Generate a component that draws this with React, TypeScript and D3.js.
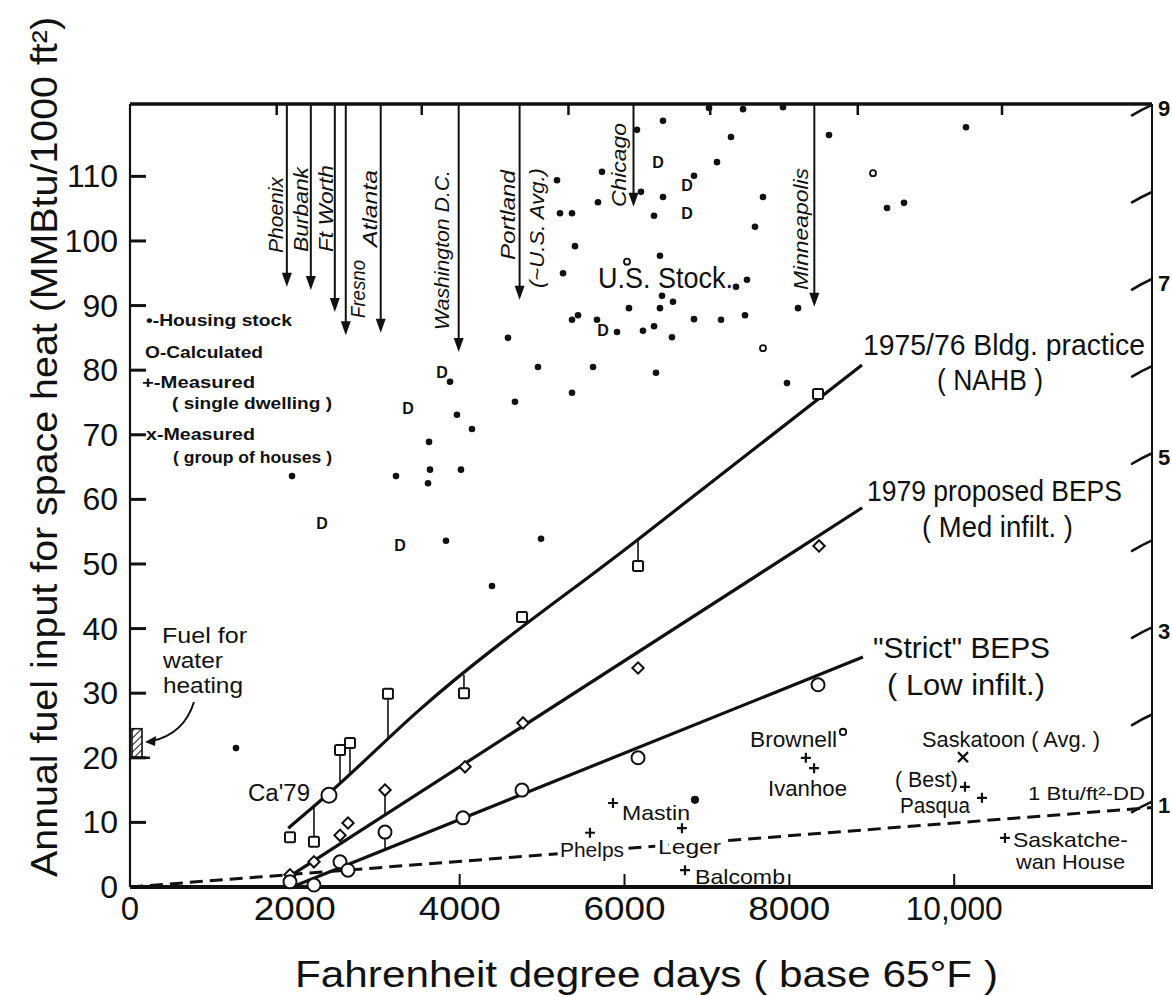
import React from 'react';
import * as d3 from 'd3';

const W = 1172;
const H = 996;
const PLOT = { left: 130, right: 1152, top: 104, bottom: 887 };
const FONT = "'Liberation Sans', Arial, sans-serif";

// axes
const xTickValues = [0, 2000, 4000, 6000, 8000, 10000];
const xTickLabels = ['0', '2000', '4000', '6000', '8000', '10,000'];
const topTickValues = [1780, 3540, 5320, 7040, 8830, 10580];
const yTickValues = [0, 10, 20, 30, 40, 50, 60, 70, 80, 90, 100, 110];
const rightTickValues = [1, 2, 3, 4, 5, 6, 7, 8, 9];
const rightTickLabels = [1, 3, 5, 7, 9];

// housing stock (filled dots)
const stockDD = [5181, 5727, 5217, 5363, 5678, 5399, 5254, 5363, 5436, 5666, 5909, 4586, 4950, 5618, 5363, 3883,
  6467, 6151, 7292, 8481, 7122, 6843, 6200, 6467, 7680, 6358, 7583, 6430, 7486, 7353, 6455, 6588, 6054, 6430, 8105,
  6224, 6358, 6576, 6843, 7171, 7462, 6382, 7971, 7025, 7438, 7923, 10143, 9185, 9391,
  4671, 3967, 4149, 3628, 3227, 3640, 3616, 4016, 3834, 4987, 1966, 4392, 1286];
const stockFuel = [109.4, 110.7, 104.3, 104.3, 106.0, 99.2, 95.0, 87.8, 88.5, 87.8, 85.9, 85.0, 80.5, 80.5, 76.5, 78.2,
  118.6, 117.2, 116.1, 116.4, 112.2, 110.1, 107.6, 106.8, 106.8, 103.9, 102.2, 97.7, 94.0, 92.9, 91.5, 90.6, 89.6, 89.6, 89.6,
  86.1, 86.8, 85.1, 87.9, 87.8, 88.5, 79.6, 78.0, 120.6, 120.4, 120.7, 117.6, 105.1, 105.9,
  75.1, 73.1, 70.9, 68.9, 63.6, 64.6, 62.5, 64.6, 53.6, 53.9, 63.6, 46.6, 21.5];
// "D" marks in the stock cloud
const dMarkDD = [5739, 3785, 6406, 6758, 6758, 3373, 2330, 3276];
const dMarkFuel = [86.2, 79.7, 112.2, 108.7, 104.3, 74.1, 56.3, 52.9];
// small open circles in the stock cloud
const ringDD = [6030, 7680, 9015];
const ringFuel = [96.8, 83.4, 110.5];

// cities (arrows from the top)
const cityNames = ['Phoenix', 'Burbank', 'Ft Worth', 'Fresno', 'Atlanta', 'Washington D.C.', 'Portland', 'Chicago', 'Minneapolis'];
const cityDD = [1903, 2194, 2485, 2618, 3042, 3988, 4727, 6109, 8303];
const cityArrowTo = [92.9, 92.4, 89.0, 85.4, 85.8, 82.8, 90.9, 105.3, 89.8];

// calculated points (city order)
const nahbDD = [1941, 2232, 2548, 2669, 3130, 4052, 4756, 6164, 8348];
const nahbFuel = [7.7, 7.0, 21.2, 22.3, 29.9, 30.0, 41.8, 49.7, 76.3];
const nahbStem = [false, true, true, true, true, true, false, true, false];
const bepsDD = [1941, 2232, 2548, 2645, 3094, 4065, 4768, 6164, 8360];
const bepsFuel = [1.9, 3.9, 8.0, 9.9, 15.0, 18.6, 25.4, 33.9, 52.8];
const bepsStem = [false, false, false, false, true, false, false, false, false];
const strictDD = [1941, 2232, 2548, 2645, 3094, 4040, 4756, 6164, 8348];
const strictFuel = [0.8, 0.3, 3.9, 2.6, 8.5, 10.7, 15.0, 20.0, 31.3];
const strictStem = [false, false, false, false, true, false, false, false, false];
const ca79 = [2414, 14.2];

// fitted lines
const nahbLine = [[1920, 9.1], [2414, 14.5], [3519, 27.5], [6164, 53.8], [8881, 80.8]];
const bepsLine = [[1917, 1.5], [8884, 58.7]];
const strictLine = [[1966, 0], [8893, 35.6]];
const oneBtuLine = [[0, 0], [12400, 12.3]];

// measured
const singleNames = ['Brownell', 'Ivanhoe', 'Mastin', 'Phelps', 'Leger', 'Balcomb', 'Saskatchewan House', 'Best', 'Pasqua'];
const singleDD = [8200, 8300, 5860, 5581, 6697, 6734, 10616, 10131, 10337];
const singleFuel = [20.0, 18.4, 13.0, 8.4, 9.1, 2.6, 7.6, 15.5, 13.8];
const groupDD = [10107];
const groupFuel = [20.1];
const noteDD = [8651, 6855];
const noteFuel = [24.0, 13.5];
const waterHeat = [20, 24.5];

const x = d3.scaleLinear().domain([0, 12400]).range([PLOT.left, PLOT.right]);
const y = d3.scaleLinear().domain([0, 121.2]).range([PLOT.bottom, PLOT.top]);
const yR = d3.scaleLinear().domain([0.06, 9.05]).range([PLOT.bottom, PLOT.top]);

const pathOf = d3.line<number[]>().x(d => x(d[0])).y(d => y(d[1]));
const smoothOf = d3.line<number[]>().x(d => x(d[0])).y(d => y(d[1])).curve(d3.curveMonotoneX);
const fnOf = (pts: number[][]) => d3.scaleLinear().domain(pts.map(p => p[0])).range(pts.map(p => p[1]));

// label layout for cities: baseline offset from arrow, top of text, text length
const cityLayout = [
  [-4, 177, 76], [-3, 167, 85], [-2, 165, 87], [19, 260, 58], [-4, 170, 77],
  [-10, 170, 160], [-5, 170, 90], [-7, 123, 84], [-6, 168, 122],
];

const legendItems = [
  { t: '•-Housing stock', x: 146, y: 326, len: 146 },
  { t: 'O-Calculated', x: 145, y: 358, len: 118 },
  { t: '+-Measured', x: 142, y: 388, len: 113 },
  { t: '( single dwelling )', x: 172, y: 409, len: 160 },
  { t: 'x-Measured', x: 146, y: 440, len: 109 },
  { t: '( group of houses )', x: 173, y: 463, len: 159 },
];

const notes = [
  { t: '1975/76 Bldg. practice', x: 863, y: 355, s: 29, len: 282 },
  { t: '( NAHB )', x: 937, y: 390, s: 29, len: 106 },
  { t: '1979 proposed BEPS', x: 867, y: 501, s: 29, len: 255 },
  { t: '( Med infilt. )', x: 922, y: 537, s: 29, len: 151 },
  { t: '"Strict" BEPS', x: 873, y: 658, s: 29, len: 177 },
  { t: '( Low infilt.)', x: 887, y: 695, s: 29, len: 158 },
  { t: 'U.S. Stock.', x: 598, y: 288, s: 29, len: 135 },
  { t: 'Brownell', x: 750, y: 747, s: 22, len: 87 },
  { t: 'Ivanhoe', x: 768, y: 796, s: 22, len: 79 },
  { t: 'Saskatoon ( Avg. )', x: 922, y: 747, s: 22, len: 178 },
  { t: '( Best)', x: 895, y: 787, s: 22, len: 63 },
  { t: 'Pasqua', x: 900, y: 813, s: 22, len: 70 },
  { t: '1 Btu/ft²-DD', x: 1028, y: 800, s: 19, len: 117 },
  { t: 'Mastin', x: 622, y: 820, s: 21, len: 68 },
  { t: 'Phelps', x: 560, y: 857, s: 21, len: 64, halo: true },
  { t: 'Leger', x: 658, y: 854, s: 21, len: 63, halo: true },
  { t: 'Balcomb', x: 695, y: 884, s: 21, len: 90 },
  { t: 'Saskatche-', x: 1013, y: 847, s: 21, len: 115 },
  { t: 'wan House', x: 1016, y: 869, s: 21, len: 109 },
  { t: "Ca'79", x: 248, y: 801, s: 23, len: 62 },
  { t: 'Fuel for', x: 162, y: 643, s: 22, len: 85 },
  { t: 'water', x: 163, y: 668, s: 22, len: 60 },
  { t: 'heating', x: 163, y: 693, s: 22, len: 80 },
];

const ink = '#111';

function Txt(p: any) {
  const { x: tx, y: ty, t, s, len, anchor = 'start', weight = 'normal', italic = false, rot = 0, halo = false } = p;
  return (
    <text
      transform={`translate(${tx},${ty})${rot ? ` rotate(${rot})` : ''}`}
      fontFamily={FONT}
      fontSize={s}
      fontWeight={weight}
      fontStyle={italic ? 'italic' : 'normal'}
      textAnchor={anchor}
      textLength={len}
      lengthAdjust={len ? 'spacingAndGlyphs' : undefined}
      fill={ink}
      stroke={halo ? '#fff' : 'none'}
      strokeWidth={halo ? 8 : 0}
      paintOrder="stroke"
    >
      {t}
    </text>
  );
}

function Stems({ dd, fuel, stem, line, r }: any) {
  const f = fnOf(line);
  return (
    <g stroke={ink} strokeWidth={1.6}>
      {dd.map((d: number, i: number) => {
        if (!stem[i]) return null;
        const px = x(d);
        const py = y(fuel[i]);
        const ly = y(f(d));
        const sy = ly > py ? py + r : py - r;
        return <line key={i} x1={px} x2={px} y1={sy} y2={ly} />;
      })}
    </g>
  );
}

export default function App() {
  const xR = PLOT.right;
  return (
    <svg width={W} height={H} viewBox={`0 0 ${W} ${H}`} style={{ position: 'absolute', left: 0, top: 0, background: '#fff' }}>
      <defs>
        <pattern id="hatch" width="5" height="5" patternUnits="userSpaceOnUse" patternTransform="rotate(45)">
          <line x1="0" y1="0" x2="0" y2="5" stroke={ink} strokeWidth="2" />
        </pattern>
      </defs>
      <rect width={W} height={H} fill="#fff" />

      {/* frame */}
      <line x1={PLOT.left} x2={PLOT.right} y1={PLOT.top} y2={PLOT.top} stroke={ink} strokeWidth={3.5} />
      <line x1={PLOT.left} x2={PLOT.right + 1} y1={PLOT.bottom} y2={PLOT.bottom} stroke={ink} strokeWidth={4} />
      <line x1={PLOT.left} x2={PLOT.left} y1={PLOT.top} y2={PLOT.bottom} stroke={ink} strokeWidth={2.2} />
      <line x1={xR} x2={xR} y1={PLOT.top} y2={PLOT.bottom} stroke={ink} strokeWidth={2} />

      {/* left ticks + labels */}
      {yTickValues.map(v => (
        <g key={v}>
          <line x1={PLOT.left} x2={PLOT.left + 16} y1={y(v)} y2={y(v)} stroke={ink} strokeWidth={3} />
          <Txt x={118} y={y(v) + 11} t={String(v)} s={32} anchor="end" />
        </g>
      ))}

      {/* bottom ticks + labels */}
      {xTickValues.map((v, i) => (
        <g key={v}>
          {v > 0 && <line x1={x(v)} x2={x(v)} y1={PLOT.bottom} y2={PLOT.bottom - 13} stroke={ink} strokeWidth={2} />}
          <Txt x={x(v)} y={920} t={xTickLabels[i]} s={33} anchor="middle"
            len={xTickLabels[i] === '10,000' ? 97 : xTickLabels[i].length === 1 ? undefined : 82} />
        </g>
      ))}

      {/* top ticks */}
      {topTickValues.map(v => (
        <line key={v} x1={x(v)} x2={x(v)} y1={PLOT.top} y2={PLOT.top + 11} stroke={ink} strokeWidth={2.5} />
      ))}

      {/* right slanted ticks */}
      {rightTickValues.map(k => {
        const py = yR(k);
        return (
          <path key={k} d={`M${xR - 20},${py + 7} Q${xR - 10},${py + 1} ${xR - 1},${py - 3}`}
            fill="none" stroke={ink} strokeWidth={2.6} strokeLinecap="round" />
        );
      })}
      {rightTickLabels.map(k => (
        <Txt key={k} x={xR + 6} y={yR(k) + 8} t={String(k)} s={22} weight="bold" />
      ))}

      {/* axis titles */}
      <Txt x={57} y={447} t="Annual fuel input for space heat (MMBtu/1000 ft²)" s={36} anchor="middle" rot={-90} len={860} />
      <Txt x={295} y={987} t="Fahrenheit degree days ( base 65°F )" s={36} len={703} />

      {/* city arrows */}
      {cityNames.map((name, i) => {
        const cx = x(cityDD[i]);
        const ty = y(cityArrowTo[i]);
        const [dx, top, len] = cityLayout[i];
        return (
          <g key={name}>
            <line x1={cx} x2={cx} y1={PLOT.top} y2={ty - 8} stroke={ink} strokeWidth={2} />
            <path d={`M${cx - 5},${ty - 14} L${cx + 5},${ty - 14} L${cx},${ty} Z`} fill={ink} />
            <Txt x={cx + dx} y={top} t={name} s={21} italic anchor="end" rot={-90} len={len} />
          </g>
        );
      })}
      <Txt x={x(cityDD[6]) + 24} y={168} t="(~U.S. Avg.)" s={21} italic anchor="end" rot={-90} len={120} />

      {/* legend */}
      {legendItems.map(l => (
        <Txt key={l.t} x={l.x} y={l.y} t={l.t} s={17} weight="bold" len={l.len} />
      ))}

      {/* water heating box */}
      <rect x={x(0) + 2} y={y(waterHeat[1])} width={10} height={y(waterHeat[0]) - y(waterHeat[1])}
        fill="url(#hatch)" stroke={ink} strokeWidth={1.6} />
      <line x1={PLOT.left} x2={PLOT.left + 20} y1={y(waterHeat[0])} y2={y(waterHeat[0])} stroke={ink} strokeWidth={2.5} />
      <path d="M194,702 Q184,734 152,741" fill="none" stroke={ink} strokeWidth={2} />
      <path d="M145,742 L156,736 L155,746 Z" fill={ink} />

      {/* reference line */}
      <path d={pathOf(oneBtuLine) || ''} fill="none" stroke={ink} strokeWidth={3} strokeDasharray="13 7" />

      {/* fitted lines */}
      <path d={smoothOf(nahbLine) || ''} fill="none" stroke={ink} strokeWidth={3.2} />
      {[bepsLine, strictLine].map((l, i) => (
        <path key={i} d={pathOf(l) || ''} fill="none" stroke={ink} strokeWidth={3.2} />
      ))}

      {/* stems */}
      <Stems dd={nahbDD} fuel={nahbFuel} stem={nahbStem} line={nahbLine} r={5} />
      <Stems dd={bepsDD} fuel={bepsFuel} stem={bepsStem} line={bepsLine} r={6} />
      <Stems dd={strictDD} fuel={strictFuel} stem={strictStem} line={strictLine} r={6} />

      {/* housing stock */}
      {stockDD.map((d, i) => <circle key={i} cx={x(d)} cy={y(stockFuel[i])} r={3.3} fill={ink} />)}
      {dMarkDD.map((d, i) => (
        <text key={i} x={x(d)} y={y(dMarkFuel[i]) + 6} fontFamily={FONT} fontWeight="bold" fontSize={16}
          textAnchor="middle" fill={ink}>D</text>
      ))}
      {ringDD.map((d, i) => <circle key={i} cx={x(d)} cy={y(ringFuel[i])} r={3} fill="#fff" stroke={ink} strokeWidth={1.8} />)}

      {/* calculated markers */}
      {nahbDD.map((d, i) => (
        <rect key={i} x={x(d) - 5} y={y(nahbFuel[i]) - 5} width={10} height={10} rx={1.5}
          fill="#fff" stroke={ink} strokeWidth={2} />
      ))}
      {bepsDD.map((d, i) => (
        <rect key={i} x={-4} y={-4} width={8} height={8} fill="#fff" stroke={ink} strokeWidth={2}
          transform={`translate(${x(d)},${y(bepsFuel[i])}) rotate(45)`} />
      ))}
      {strictDD.map((d, i) => (
        <circle key={i} cx={x(d)} cy={y(strictFuel[i])} r={6.5} fill="#fff" stroke={ink} strokeWidth={2} />
      ))}
      <circle cx={x(ca79[0])} cy={y(ca79[1])} r={7.5} fill="#fff" stroke={ink} strokeWidth={2} />

      {/* measured */}
      {singleDD.map((d, i) => (
        <path key={singleNames[i]} transform={`translate(${x(d)},${y(singleFuel[i])})`}
          d="M-5,0 H5 M0,-5 V5" stroke={ink} strokeWidth={2.2} />
      ))}
      {groupDD.map((d, i) => (
        <path key={i} transform={`translate(${x(d)},${y(groupFuel[i])})`}
          d="M-5,-5 L5,5 M-5,5 L5,-5" stroke={ink} strokeWidth={2.2} />
      ))}
      {noteDD.map((d, i) => (
        <circle key={i} cx={x(d)} cy={y(noteFuel[i])} r={3.2} fill={i === 1 ? ink : '#fff'} stroke={ink} strokeWidth={1.8} />
      ))}

      {/* annotations */}
      {notes.map(n => <Txt key={n.t} x={n.x} y={n.y} t={n.t} s={n.s} len={n.len} halo={n.halo} />)}
    </svg>
  );
}
